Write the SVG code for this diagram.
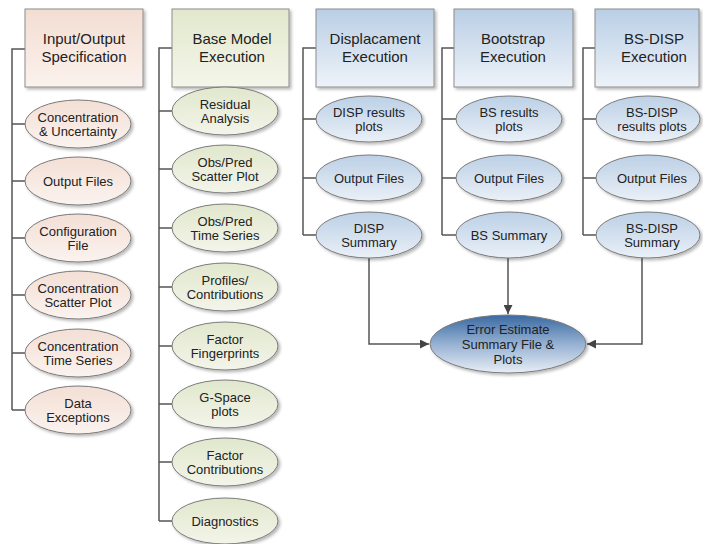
<svg xmlns="http://www.w3.org/2000/svg" width="703" height="544" viewBox="0 0 703 544">
<defs>
<linearGradient id="gPeachBox" x1="0" y1="0" x2="0" y2="1"><stop offset="0" stop-color="#f3ddd2"/><stop offset="1" stop-color="#fbf2ed"/></linearGradient>
<linearGradient id="gPeachEl" x1="0" y1="0" x2="0" y2="1"><stop offset="0" stop-color="#f3dfd5"/><stop offset="1" stop-color="#fbf3ef"/></linearGradient>
<linearGradient id="gGreenBox" x1="0" y1="0" x2="0" y2="1"><stop offset="0" stop-color="#e2e8cc"/><stop offset="1" stop-color="#f4f6ea"/></linearGradient>
<linearGradient id="gGreenEl" x1="0" y1="0" x2="0" y2="1"><stop offset="0" stop-color="#e1e7cd"/><stop offset="1" stop-color="#f3f5e9"/></linearGradient>
<linearGradient id="gBlueBox" x1="0" y1="0" x2="0" y2="1"><stop offset="0" stop-color="#b9cee5"/><stop offset="1" stop-color="#eef3f9"/></linearGradient>
<linearGradient id="gBlueEl" x1="0" y1="0" x2="0" y2="1"><stop offset="0" stop-color="#bcd0e6"/><stop offset="1" stop-color="#eaf0f7"/></linearGradient>
<linearGradient id="gDark" x1="0" y1="0" x2="0" y2="1"><stop offset="0" stop-color="#3a69a2"/><stop offset="0.5" stop-color="#96b1d2"/><stop offset="1" stop-color="#e8eef6"/></linearGradient>
<filter id="sh" x="-10%" y="-10%" width="125%" height="130%"><feDropShadow dx="2" dy="2" stdDeviation="1.5" flood-color="#000" flood-opacity="0.28"/></filter>
<marker id="arr" viewBox="0 0 10 10" refX="10" refY="5" markerWidth="9" markerHeight="9" markerUnits="userSpaceOnUse" orient="auto"><path d="M0,0 L10,5 L0,10 z" fill="#444"/></marker>
<style>
.box{stroke:#8c8c8c;stroke-width:1;filter:url(#sh)}
.el{stroke:#7a7a7a;stroke-width:1;filter:url(#sh)}
.t{font-family:"Liberation Sans",Arial,sans-serif;fill:#222;text-anchor:middle}
.bt{font-size:15px}
.et{font-size:13px}
.ln{fill:none;stroke:#555;stroke-width:1.5}
</style>
</defs>

<g id="connectors">
<path class="ln" d="M25,49 H12 V410 M12,124 H25 M12,181 H25 M12,238 H25 M12,295 H25 M12,353 H25 M12,410 H25"/>
<path class="ln" d="M172,48 H159 V521 M159,111 H172 M159,169 H172 M159,228 H172 M159,287 H172 M159,346 H172 M159,404 H172 M159,462 H172 M159,521 H172"/>
<path class="ln" d="M316,48 H303 V235 M303,119 H316 M303,178 H316 M303,235 H316"/>
<path class="ln" d="M454,48 H442 V235 M442,119 H456 M442,178 H456 M442,235 H456"/>
<path class="ln" d="M595,48 H583 V235 M583,119 H596 M583,178 H596 M583,235 H596"/>
<path class="ln" d="M369,258 V344 H429" marker-end="url(#arr)"/>
<path class="ln" d="M508,257 V314" marker-end="url(#arr)"/>
<path class="ln" d="M642,258 V344 H587" marker-end="url(#arr)"/>
</g>

<g id="n-io"><rect class="box" x="25" y="9" width="118" height="78" fill="url(#gPeachBox)"/><text class="t bt" x="84" y="44">Input/Output</text><text class="t bt" x="84" y="62">Specification</text></g>
<g id="n-conc"><ellipse class="el" cx="78" cy="124" rx="53" ry="24" fill="url(#gPeachEl)"/><text class="t et" x="78" y="122">Concentration</text><text class="t et" x="78" y="136">&amp; Uncertainty</text></g>
<g id="n-out1"><ellipse class="el" cx="78" cy="181" rx="53" ry="24" fill="url(#gPeachEl)"/><text class="t et" x="78" y="186">Output Files</text></g>
<g id="n-config"><ellipse class="el" cx="78" cy="238" rx="53" ry="24" fill="url(#gPeachEl)"/><text class="t et" x="78" y="236">Configuration</text><text class="t et" x="78" y="250">File</text></g>
<g id="n-cscatter"><ellipse class="el" cx="78" cy="295" rx="53" ry="24" fill="url(#gPeachEl)"/><text class="t et" x="78" y="293">Concentration</text><text class="t et" x="78" y="307">Scatter Plot</text></g>
<g id="n-cts"><ellipse class="el" cx="78" cy="353" rx="53" ry="24" fill="url(#gPeachEl)"/><text class="t et" x="78" y="351">Concentration</text><text class="t et" x="78" y="365">Time Series</text></g>
<g id="n-dataexc"><ellipse class="el" cx="78" cy="410" rx="53" ry="24" fill="url(#gPeachEl)"/><text class="t et" x="78" y="408">Data</text><text class="t et" x="78" y="422">Exceptions</text></g>

<g id="n-base"><rect class="box" x="172" y="9" width="117" height="78" fill="url(#gGreenBox)"/><text class="t bt" x="232" y="44">Base Model</text><text class="t bt" x="232" y="62">Execution</text></g>
<g id="n-resid"><ellipse class="el" cx="225" cy="111" rx="53" ry="24" fill="url(#gGreenEl)"/><text class="t et" x="225" y="109">Residual</text><text class="t et" x="225" y="123">Analysis</text></g>
<g id="n-opscatter"><ellipse class="el" cx="225" cy="169" rx="53" ry="24" fill="url(#gGreenEl)"/><text class="t et" x="225" y="167">Obs/Pred</text><text class="t et" x="225" y="181">Scatter Plot</text></g>
<g id="n-opts"><ellipse class="el" cx="225" cy="228" rx="53" ry="24" fill="url(#gGreenEl)"/><text class="t et" x="225" y="226">Obs/Pred</text><text class="t et" x="225" y="240">Time Series</text></g>
<g id="n-profiles"><ellipse class="el" cx="225" cy="287" rx="53" ry="24" fill="url(#gGreenEl)"/><text class="t et" x="225" y="285">Profiles/</text><text class="t et" x="225" y="299">Contributions</text></g>
<g id="n-finger"><ellipse class="el" cx="225" cy="346" rx="53" ry="24" fill="url(#gGreenEl)"/><text class="t et" x="225" y="344">Factor</text><text class="t et" x="225" y="358">Fingerprints</text></g>
<g id="n-gspace"><ellipse class="el" cx="225" cy="404" rx="53" ry="24" fill="url(#gGreenEl)"/><text class="t et" x="225" y="402">G-Space</text><text class="t et" x="225" y="416">plots</text></g>
<g id="n-fcontrib"><ellipse class="el" cx="225" cy="462" rx="53" ry="24" fill="url(#gGreenEl)"/><text class="t et" x="225" y="460">Factor</text><text class="t et" x="225" y="474">Contributions</text></g>
<g id="n-diag"><ellipse class="el" cx="225" cy="521" rx="53" ry="23" fill="url(#gGreenEl)"/><text class="t et" x="225" y="526">Diagnostics</text></g>

<g id="n-disp"><rect class="box" x="316" y="9" width="118" height="78" fill="url(#gBlueBox)"/><text class="t bt" x="375" y="44">Displacament</text><text class="t bt" x="375" y="62">Execution</text></g>
<g id="n-disp-plots"><ellipse class="el" cx="369" cy="119" rx="53" ry="23" fill="url(#gBlueEl)"/><text class="t et" x="369" y="117">DISP results</text><text class="t et" x="369" y="131">plots</text></g>
<g id="n-disp-out"><ellipse class="el" cx="369" cy="178" rx="53" ry="23" fill="url(#gBlueEl)"/><text class="t et" x="369" y="183">Output Files</text></g>
<g id="n-disp-sum"><ellipse class="el" cx="369" cy="235" rx="53" ry="23" fill="url(#gBlueEl)"/><text class="t et" x="369" y="233">DISP</text><text class="t et" x="369" y="247">Summary</text></g>

<g id="n-bs"><rect class="box" x="454" y="9" width="119" height="78" fill="url(#gBlueBox)"/><text class="t bt" x="513" y="44">Bootstrap</text><text class="t bt" x="513" y="62">Execution</text></g>
<g id="n-bs-plots"><ellipse class="el" cx="509" cy="119" rx="53" ry="23" fill="url(#gBlueEl)"/><text class="t et" x="509" y="117">BS results</text><text class="t et" x="509" y="131">plots</text></g>
<g id="n-bs-out"><ellipse class="el" cx="509" cy="178" rx="53" ry="23" fill="url(#gBlueEl)"/><text class="t et" x="509" y="183">Output Files</text></g>
<g id="n-bs-sum"><ellipse class="el" cx="509" cy="235" rx="53" ry="23" fill="url(#gBlueEl)"/><text class="t et" x="509" y="240">BS Summary</text></g>

<g id="n-bsdisp"><rect class="box" x="595" y="9" width="104" height="78" fill="url(#gBlueBox)"/><text class="t bt" x="654" y="44">BS-DISP</text><text class="t bt" x="654" y="62">Execution</text></g>
<g id="n-bsdisp-plots"><ellipse class="el" cx="648" cy="119" rx="52" ry="23" fill="url(#gBlueEl)"/><text class="t et" x="652" y="117">BS-DISP</text><text class="t et" x="652" y="131">results plots</text></g>
<g id="n-bsdisp-out"><ellipse class="el" cx="648" cy="178" rx="52" ry="23" fill="url(#gBlueEl)"/><text class="t et" x="652" y="183">Output Files</text></g>
<g id="n-bsdisp-sum"><ellipse class="el" cx="648" cy="235" rx="52" ry="23" fill="url(#gBlueEl)"/><text class="t et" x="652" y="233">BS-DISP</text><text class="t et" x="652" y="247">Summary</text></g>

<g id="n-error"><ellipse class="el" cx="508" cy="344" rx="78" ry="29" fill="url(#gDark)" stroke="#555"/><text class="t et" x="508" y="334">Error Estimate</text><text class="t et" x="508" y="349">Summary File &amp;</text><text class="t et" x="508" y="364">Plots</text></g>
</svg>
